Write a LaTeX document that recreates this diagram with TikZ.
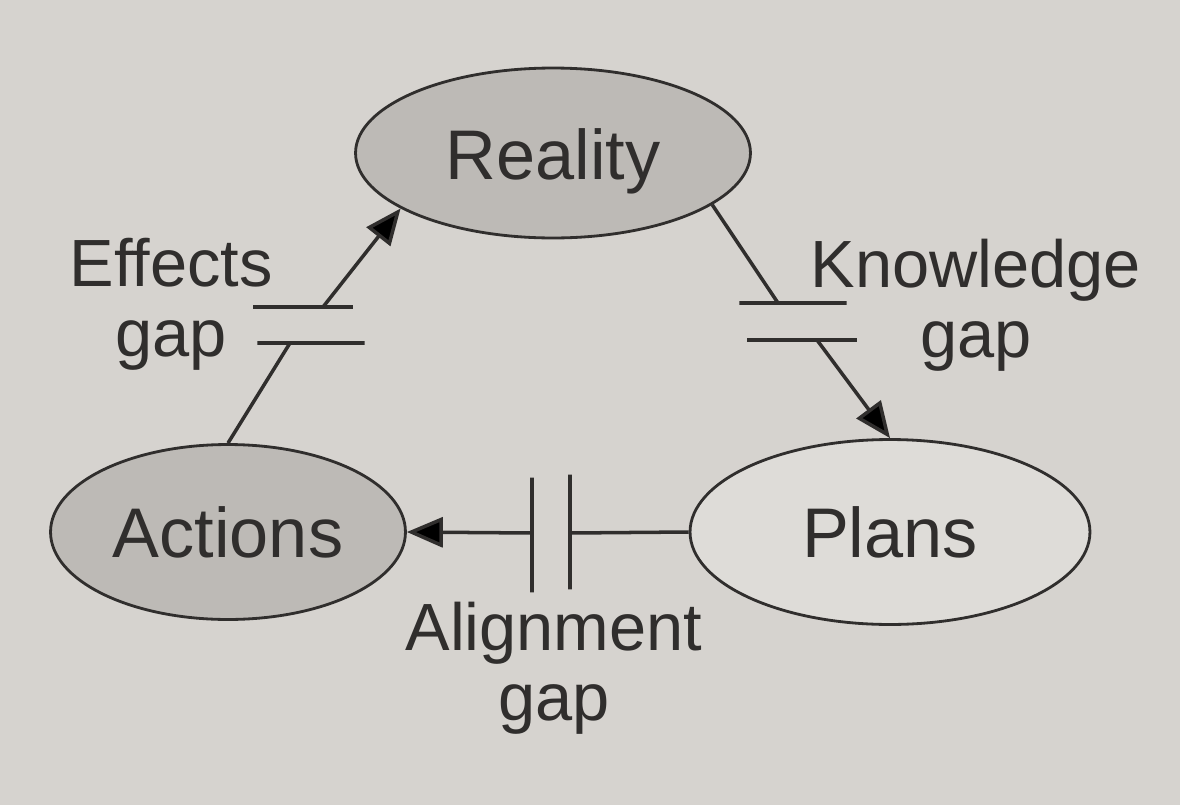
\documentclass[tikz,border=0pt]{standalone}
\usepackage{fontspec}
\setmainfont{Liberation Sans}
\usepackage{tikz}
\usetikzlibrary{arrows.meta,shapes.geometric}
\definecolor{paper}{RGB}{214,211,207}
\definecolor{shade}{RGB}{189,186,182}
\definecolor{light}{RGB}{222,220,216}
\definecolor{pencil}{RGB}{48,46,45}

\begin{document}
\begin{tikzpicture}[x=0.02cm,y=-0.02cm,
    oval/.style={ellipse,draw=pencil,line width=1.6pt,inner sep=0pt,text=pencil,font=\fontsize{40}{34}\selectfont},
    gapbar/.style={draw=pencil,line width=2pt,inner sep=0pt,minimum width=0pt,minimum height=0pt},
    lbl/.style={align=center,text=pencil,font=\fontsize{38}{40}\selectfont},
    link/.style={draw=pencil,line width=2pt},
    tip/.style={-{Triangle[length=0.72cm,width=0.6cm]}}]
  \fill[paper] (0,0) rectangle (1180,805);

  \draw (553,153) node[oval,fill=shade,minimum width=7.9cm,minimum height=3.4cm,text height=1.38cm,text depth=0.3cm] (reality) {Reality};
  \draw (228,532) node[oval,fill=shade,minimum width=7.1cm,minimum height=3.5cm] (actions) {Actions};
  \draw (890,532) node[oval,fill=light,minimum width=8cm,minimum height=3.7cm] (plans) {Plans};

  % gap bars
  \draw (303,307) node[gapbar,minimum width=2cm] (effbar1) {};
  \draw (311,343) node[gapbar,minimum width=2.15cm] (effbar2) {};
  \draw (793,303) node[gapbar,minimum width=2.15cm] (knowbar1) {};
  \draw (802,340) node[gapbar,minimum width=2.2cm] (knowbar2) {};
  \draw (532,535) node[gapbar,minimum height=2.3cm] (alignbar1) {};
  \draw (570,532) node[gapbar,minimum height=2.3cm] (alignbar2) {};

  \coordinate (effend1) at (323,307);
  \coordinate (effend2) at (290,343);
  \coordinate (knowend1) at (778,303);
  \coordinate (knowend2) at (817,340);
  \coordinate (alignend1) at (570,533);
  \coordinate (alignend2) at (532,533);

  % labels
  \draw (171,304) node[lbl] (efflbl) {Effects\\gap};
  \draw (976,305) node[lbl] (knowlbl) {Knowledge\\gap};
  \draw (554,668) node[lbl] (alignlbl) {Alignment\\gap};

  \path[link] (actions.north) edge (effend2);
  \path[link] (effend1) edge[tip] (reality.200);
  \path[link] (reality.342) edge (knowend1);
  \path[link] (knowend2) edge[tip] (plans.north);
  \path[link] (plans.west) edge (alignend1);
  \path[link] (alignend2) edge[tip] (actions.east);

\end{tikzpicture}
\end{document}
